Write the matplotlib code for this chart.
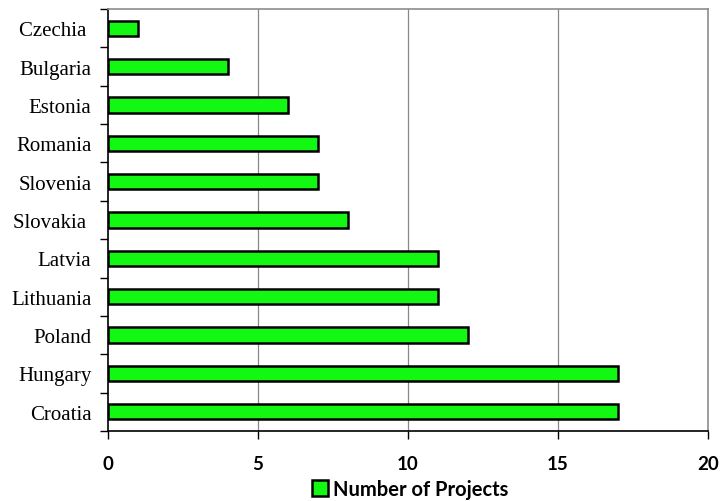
import matplotlib
matplotlib.use("Agg")
import matplotlib.pyplot as plt
import numpy as np
from matplotlib.patches import Patch

countries = ["Czechia ", "Bulgaria", "Estonia", "Romania", "Slovenia", "Slovakia ",
             "Latvia", "Lithuania", "Poland", "Hungary", "Croatia"]
projects = [1, 4, 6, 7, 7, 8, 11, 11, 12, 17, 17]
x_ticks = [0, 5, 10, 15, 20]
series_name = "Number of Projects"

bar_color = "#12F812"

fig = plt.figure(figsize=(7.2, 5.02), dpi=100)
ax = fig.add_axes([108 / 720, 1 - 432 / 502, 600 / 720, 422 / 502])

n = len(countries)
ypos = np.arange(n)
ax.barh(ypos, projects, height=0.40, color=bar_color, edgecolor="black",
        linewidth=1.8, zorder=3)

ax.set_xlim(0, 20)
ax.set_ylim(n - 0.5, -0.5)

# vertical gridlines
ax.set_xticks(x_ticks)
for v in x_ticks[1:-1]:
    ax.axvline(v, color="#888888", linewidth=0.9, zorder=1)

ax.set_xticklabels([str(v) for v in x_ticks], fontfamily="Lato",
                   fontweight="bold", fontsize=13.5)
ax.tick_params(axis="x", direction="out", length=6, width=1, color="black", pad=11)

# category labels centred on bars, tick marks at category boundaries
ax.set_yticks(ypos)
ax.set_yticklabels(countries, fontfamily="Liberation Serif", fontsize=15)
ax.tick_params(axis="y", which="major", length=0, pad=12)
ax.set_yticks(np.arange(-0.5, n, 1.0), minor=True)
ax.tick_params(axis="y", which="minor", direction="out", length=6, width=1, color="black")

for side in ("left", "bottom"):
    ax.spines[side].set_color("black")
    ax.spines[side].set_linewidth(1.2)
for side in ("top", "right"):
    ax.spines[side].set_color("#8c8c8c")
    ax.spines[side].set_linewidth(1.2)

handle = Patch(facecolor=bar_color, edgecolor="black", linewidth=1.8)
fig.legend([handle], [series_name], loc="center", bbox_to_anchor=(410 / 720, 1 - 490 / 502),
           frameon=False, handlelength=0.8, handleheight=0.8, handletextpad=0.25,
           prop={"family": "Lato", "weight": "bold", "size": 14.5})

fig.savefig("out.png", dpi=100, facecolor="white")
